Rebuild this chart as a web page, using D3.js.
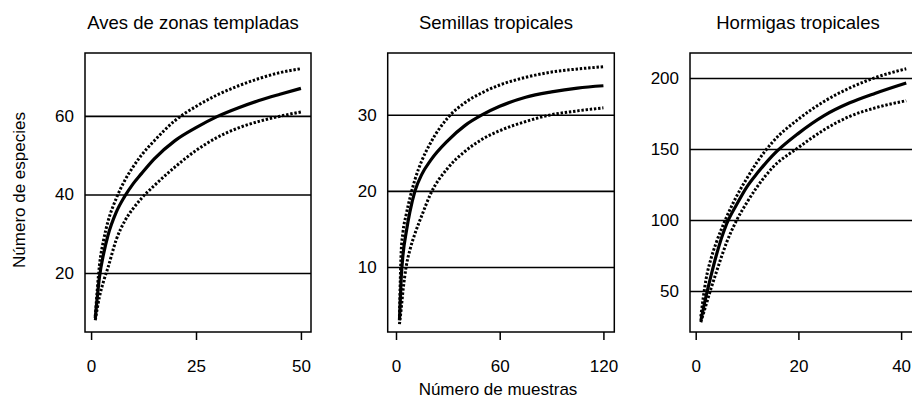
<!DOCTYPE html>
<html>
<head>
<meta charset="utf-8">
<script src="https://cdn.jsdelivr.net/npm/d3@7"></script>
<style>
  body { margin: 0; background: #fff; }
  svg { display: block; font-family: "Liberation Sans", Arial, sans-serif; }
</style>
</head>
<body>
<div id="chart"></div>
<script>
// valores
var titulos = ["Aves de zonas templadas", "Semillas tropicales", "Hormigas tropicales"];

var avesMuestras = [1, 2, 3, 4, 6, 8, 10, 12, 15, 20, 25, 30, 35, 40, 45, 50];
var avesMedia    = [8.5, 19, 25, 29.5, 35.5, 39.5, 42.7, 45.3, 49, 53.7, 57, 59.8, 62, 63.9, 65.5, 67];
var avesSup      = [9, 22, 28.5, 33, 39, 43.5, 47, 50, 53.6, 58.8, 62.4, 65.3, 67.6, 69.5, 71, 72];
var avesInf      = [8, 14, 18, 21.3, 28.5, 33.2, 36.4, 39, 42.2, 47, 51.2, 54.5, 56.9, 58.6, 59.9, 61];

var semillasMuestras = [2, 3, 4, 6, 8, 11, 15, 20, 30, 40, 50, 60, 75, 90, 105, 120];
var semillasMedia    = [3, 8.5, 11.5, 14.7, 17.2, 20, 22.2, 24, 26.6, 28.6, 30, 31.1, 32.3, 33, 33.5, 33.8];
var semillasSup      = [3.5, 12, 14.5, 17, 19, 21.5, 24, 26.3, 29.6, 31.6, 32.9, 33.9, 34.9, 35.6, 36, 36.3];
var semillasInf      = [2.5, 4.5, 6.8, 10.2, 12.2, 14.4, 16.8, 19.6, 23, 25.2, 26.8, 27.9, 29.1, 30, 30.5, 30.9];

var hormigasMuestras = [1, 2, 3, 4, 6, 8, 10, 12, 15, 20, 25, 30, 35, 41];
var hormigasMedia    = [29, 46, 61, 75, 97, 111, 123.5, 133, 145.5, 161, 173.5, 182.5, 189.3, 196.5];
var hormigasSup      = [32, 58, 73, 84, 102, 117, 129.5, 141, 155, 171, 183.5, 193, 200.3, 206.5];
var hormigasInf      = [28, 40, 52, 63, 84, 100, 112.5, 123.5, 137, 151, 163.5, 173, 179, 184];

var ticksX = [[0, 25, 50], [0, 60, 120], [0, 20, 40]];
var ticksY = [[20, 40, 60], [10, 20, 30], [50, 100, 150, 200]];

var dominiosX = [[-1.45, 52.4], [-4.8, 126.3], [-1.11, 42.9]];
var dominiosY = [[5, 76], [1.47, 38.1], [21.1, 217.6]];

var series = [
  { x: avesMuestras, media: avesMedia, sup: avesSup, inf: avesInf },
  { x: semillasMuestras, media: semillasMedia, sup: semillasSup, inf: semillasInf },
  { x: hormigasMuestras, media: hormigasMedia, sup: hormigasSup, inf: hormigasInf }
];

var width = 912, height = 405;
var cajaSup = 53, cajaInf = 332;
var cajas = [[85, 311], [387.7, 614.3], [690, 916]];

var svg = d3.select("#chart").append("svg")
  .attr("width", width)
  .attr("height", height);

series.forEach(function (s, i) {
  var left = cajas[i][0], right = cajas[i][1];
  var x = d3.scaleLinear().domain(dominiosX[i]).range([left, right]);
  var y = d3.scaleLinear().domain(dominiosY[i]).range([cajaInf, cajaSup]);
  var g = svg.append("g");

  // lineas horizontales (ticks a todo lo ancho)
  var ejeY = g.append("g")
    .attr("transform", "translate(" + left + ",0)")
    .call(d3.axisLeft(y).tickValues(ticksY[i]).tickSize(-(right - left)).tickPadding(11));
  ejeY.select(".domain").remove();
  ejeY.selectAll("line").attr("stroke", "#000").attr("stroke-width", 1.6);
  ejeY.selectAll("text").attr("fill", "#000").style("font-size", "17px");

  var ejeX = g.append("g")
    .attr("transform", "translate(0," + cajaInf + ")")
    .call(d3.axisBottom(x).tickValues(ticksX[i]).tickSize(8).tickPadding(20));
  ejeX.select(".domain").remove();
  ejeX.selectAll("line").attr("stroke", "#000").attr("stroke-width", 1.5);
  ejeX.selectAll("text").attr("fill", "#000").style("font-size", "17px");

  g.append("rect")
    .attr("x", left).attr("y", cajaSup)
    .attr("width", right - left).attr("height", cajaInf - cajaSup)
    .attr("fill", "none").attr("stroke", "#000").attr("stroke-width", 1.5);

  var linea = function (vals) {
    return d3.line()
      .x(function (d, k) { return x(s.x[k]); })
      .y(function (d) { return y(d); })
      .curve(d3.curveMonotoneX)(vals);
  };

  [s.sup, s.inf].forEach(function (vals) {
    g.append("path")
      .attr("d", linea(vals))
      .attr("fill", "none")
      .attr("stroke", "#000")
      .attr("stroke-width", 3)
      .attr("stroke-dasharray", "2.4,1.8");
  });

  g.append("path")
    .attr("d", linea(s.media))
    .attr("fill", "none")
    .attr("stroke", "#000")
    .attr("stroke-width", 3.2);

  g.append("text")
    .attr("x", (left + right) / 2 - 5)
    .attr("y", 29)
    .attr("text-anchor", "middle")
    .style("font-size", "18.5px")
    .text(titulos[i]);
});

svg.append("text")
  .attr("transform", "translate(25,190) rotate(-90)")
  .attr("text-anchor", "middle")
  .style("font-size", "17px")
  .text("Número de especies");

svg.append("text")
  .attr("x", 498)
  .attr("y", 395)
  .attr("text-anchor", "middle")
  .style("font-size", "17px")
  .text("Número de muestras");
</script>
</body>
</html>
